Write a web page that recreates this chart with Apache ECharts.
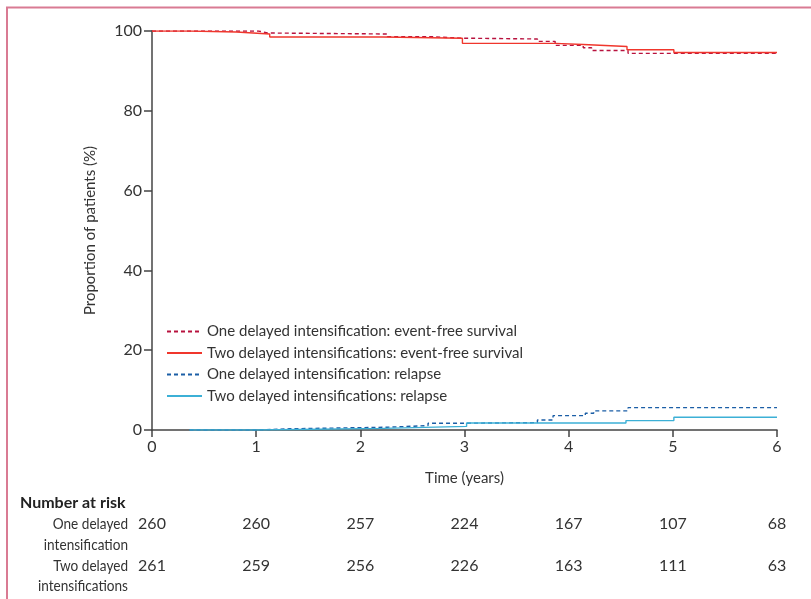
<!DOCTYPE html>
<html><head><meta charset="utf-8">
<script src="https://cdn.jsdelivr.net/npm/echarts@6/dist/echarts.min.js"></script>
<style>html,body{margin:0;padding:0;background:#fff}#c{width:811px;height:599px}</style>
</head><body><div id="c"></div>
<script>
// Series: time (years) of each step and the value (%) from that time on
const efsOneT = [0, 1.02, 1.07, 1.11, 2.26, 2.67, 2.98, 3.70, 3.87, 4.14, 4.22, 4.57, 6.0];
const efsOneV = [100, 99.75, 99.5, 99.25, 98.6, 98.2, 98.0, 97.4, 96.4, 95.8, 95.1, 94.4, 94.4];
const efsTwoT = [0, 0.36, 0.81, 1.13, 2.22, 2.98, 3.87, 4.14, 4.56, 5.01, 6.0];
const efsTwoV = [100, 99.75, 99.25, 98.5, 98.2, 96.9, 96.6, 96.1, 95.3, 94.6, 94.6];
const relOneT = [0.36, 1.01, 1.32, 2.26, 2.65, 3.0, 3.70, 3.85, 4.16, 4.24, 4.57, 6.0];
const relOneV = [0, 0.3, 0.7, 1.1, 1.7, 1.85, 2.5, 3.6, 4.2, 4.8, 5.6, 5.6];
const relTwoT = [0.36, 1.01, 2.22, 3.02, 4.55, 5.01, 6.0];
const relTwoV = [0, 0.4, 0.9, 1.75, 2.35, 3.2, 3.2];

const seriesNames = [
  'One delayed intensification: event-free survival',
  'Two delayed intensifications: event-free survival',
  'One delayed intensification: relapse',
  'Two delayed intensifications: relapse'
];
const xTicks = [0, 1, 2, 3, 4, 5, 6];
const yTicks = [0, 20, 40, 60, 80, 100];
const riskTitle = 'Number at risk';
const riskLabels = [['One delayed', 'intensification'], ['Two delayed', 'intensifications']];
const riskOne = [260, 260, 257, 224, 167, 107, 68];
const riskTwo = [261, 259, 256, 226, 163, 111, 63];

const FONT = 'Lato';
const TXT = '#333';
const AX = '#444';
function pairs(t, v) { return t.map((x, i) => [x, v[i]]); }

const chart = echarts.init(document.getElementById('c'), null, {renderer: 'canvas'});
const mk = (name, t, v, color, type, w) => ({
  name, type: 'line', step: 'end', data: pairs(t, v), symbol: 'none',
  lineStyle: {color, type, width: w}, itemStyle: {color}, animation: false
});
chart.setOption({
  animation: false,
  textStyle: {fontFamily: FONT},
  grid: {left: 152, right: 34, top: 31, bottom: 169, containLabel: false},
  xAxis: {
    type: 'value', min: 0, max: 6, interval: 1,
    name: 'Time (years)', nameLocation: 'middle', nameGap: 41,
    nameTextStyle: {fontFamily: FONT, fontSize: 15, color: TXT},
    axisLine: {show: true, lineStyle: {color: AX, width: 1.5}},
    axisTick: {show: true, length: 7, lineStyle: {color: AX, width: 1.5}},
    axisLabel: {fontFamily: FONT, fontSize: 16, color: TXT, margin: 9},
    splitLine: {show: false}
  },
  yAxis: {
    type: 'value', min: 0, max: 100, interval: 20,
    name: 'Proportion of patients (%)', nameLocation: 'middle', nameGap: 54,
    nameTextStyle: {fontFamily: FONT, fontSize: 15, color: TXT},
    axisLine: {show: true, lineStyle: {color: AX, width: 1.5}},
    axisTick: {show: true, length: 8, lineStyle: {color: AX, width: 1.5}},
    axisLabel: {fontFamily: FONT, fontSize: 16, color: TXT, margin: 10},
    splitLine: {show: false}
  },
  legend: {
    orient: 'vertical', left: 161, top: 319, itemGap: 6.5, itemWidth: 35, itemHeight: 14,
    itemStyle: {opacity: 0},
    textStyle: {fontFamily: FONT, fontSize: 15, color: TXT},
    data: seriesNames
  },
  series: [
    mk(seriesNames[0], efsOneT, efsOneV, '#b8123e', [4, 3], 1.4),
    mk(seriesNames[1], efsTwoT, efsTwoV, '#f0362c', 'solid', 1.4),
    mk(seriesNames[2], relOneT, relOneV, '#1b5ea6', [4, 3], 1.4),
    mk(seriesNames[3], relTwoT, relTwoV, '#3cb0d6', 'solid', 1.4)
  ]
});

// Frame and number-at-risk table
const g = [
  {type: 'line', shape: {x1: 6, y1: 7.5, x2: 811, y2: 7.5}, style: {stroke: '#d97b93', lineWidth: 2}},
  {type: 'line', shape: {x1: 7, y1: 7, x2: 7, y2: 599}, style: {stroke: '#d97b93', lineWidth: 2}},
  {type: 'text', x: 20, y: 503, style: {text: riskTitle, font: 'bold 16px ' + FONT, fill: '#222', verticalAlign: 'middle'}}
];
const rowY = [[524, 545], [566, 586]];
riskLabels.forEach((lab, r) => {
  lab.forEach((s, k) => g.push({type: 'text', x: 128, y: rowY[r][k], scaleX: 0.85,
    style: {text: s, font: '16px ' + FONT, fill: TXT, align: 'right', verticalAlign: 'middle'}}));
});
[riskOne, riskTwo].forEach((row, r) => {
  row.forEach((n, i) => {
    const px = chart.convertToPixel({xAxisIndex: 0}, xTicks[i]);
    g.push({type: 'text', x: px, y: rowY[r][0],
      style: {text: String(n), font: '16px ' + FONT, fill: TXT, align: 'center', verticalAlign: 'middle'}});
  });
});
chart.setOption({graphic: g});
</script></body></html>
